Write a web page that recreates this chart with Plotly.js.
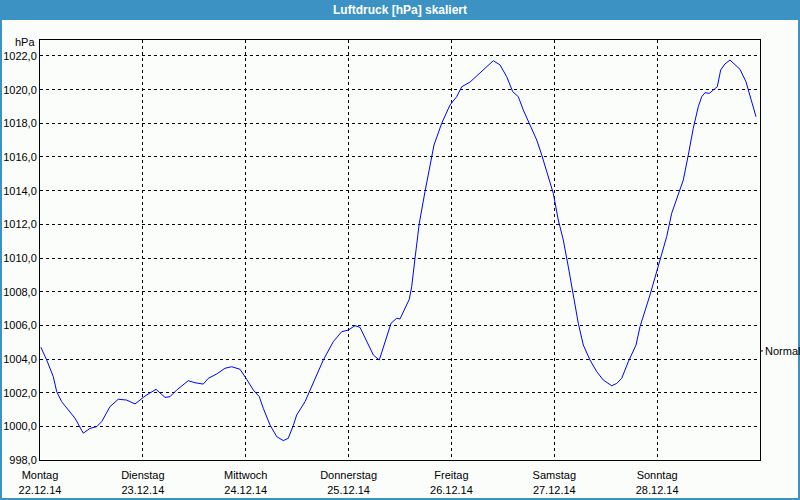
<!DOCTYPE html>
<html>
<head>
<meta charset="utf-8">
<script src="https://cdn.plot.ly/plotly-3.0.1.min.js"></script>
<style>
  html, body { margin: 0; padding: 0; background: #fbfdfb; }
  #chart { width: 800px; height: 500px; }
</style>
</head>
<body>
<div id="chart"></div>
<script>
// Hours since Monday 22.12.14 00:00
const hours = [0.2, 1.56, 3.1, 3.9, 5.06, 6.6, 8.17, 10.1, 11.67, 13.23, 14.4, 16.33, 18.27, 20.23, 22.17, 23.33,
  24.5, 27.07, 29.17, 30.33, 31.9, 34.6, 36.17, 38.1, 39.27, 41.23, 43.17, 44.73, 46.67,
  48.23, 49.77, 51.17, 52.1, 53.67, 55.23, 56.77, 57.93, 59.1, 59.89, 61.83, 63.4, 66.1, 68.43, 70.4,
  71.93, 73.5, 74.67, 76.23, 77.77, 79.17, 80.5, 81.9, 83.23, 84, 86.17, 86.73, 87.5, 88.5, 89.83, 91, 91.93, 93.73, 95.67,
  97.23, 98.4, 100.33, 101.9, 103.83, 105.77, 107.33, 108.9, 110.3, 111.6, 112.77, 114.33, 115.9, 117.07, 118.37,
  119.77, 120.93, 122.1, 123.27, 124.43, 125.6, 126.77, 128.33, 129.9, 131.43, 133.4, 134.57, 135.73, 137.27, 139.07, 140, 142.33,
  144.27, 146.23, 147.4, 148.93, 150.1, 151.27, 152.43, 153.6, 154.4, 155.17, 156.17, 157.1, 158.03, 158.83, 159.83, 161,
  162.17, 163.33, 164.73, 165.67, 167.07];
const pressure = [1004.70, 1003.94, 1002.95, 1002.06, 1001.46, 1000.97, 1000.48, 999.59, 999.88, 999.98, 1000.28, 1001.17, 1001.61, 1001.56, 1001.33, 1001.56,
  1001.80, 1002.20, 1001.72, 1001.76, 1002.16, 1002.71, 1002.59, 1002.51, 1002.85, 1003.11, 1003.45, 1003.54, 1003.39,
  1002.79, 1002.16, 1001.76, 1001.07, 1000.08, 999.39, 999.15, 999.29, 1000.05, 1000.67, 1001.46, 1002.35, 1003.94, 1005.03, 1005.62,
  1005.72, 1005.98, 1005.88, 1005.03, 1004.24, 1003.94, 1005.03, 1006.12, 1006.42, 1006.38, 1007.55, 1008.30, 1009.98, 1012.06, 1013.94, 1015.42, 1016.71, 1018.00, 1019.09,
  1019.58, 1020.17, 1020.45, 1020.81, 1021.27, 1021.72, 1021.47, 1020.77, 1019.88, 1019.58, 1018.79, 1017.90, 1017.01, 1016.12, 1015.03,
  1013.84, 1012.26, 1011.07, 1009.48, 1007.90, 1006.12, 1004.83, 1003.94, 1003.25, 1002.75, 1002.41, 1002.55, 1002.85, 1003.84, 1004.83, 1005.92, 1007.80,
  1009.48, 1011.27, 1012.66, 1013.84, 1014.63, 1016.12, 1017.71, 1018.99, 1019.58, 1019.82, 1019.78, 1019.98, 1020.17, 1021.17, 1021.53, 1021.76,
  1021.47, 1021.21, 1020.47, 1019.58, 1018.39];

const dayTicks = [0, 24, 48, 72, 96, 120, 144];
const dayNames = ['Montag', 'Dienstag', 'Mittwoch', 'Donnerstag', 'Freitag', 'Samstag', 'Sonntag'];
const dayDates = ['22.12.14', '23.12.14', '24.12.14', '25.12.14', '26.12.14', '27.12.14', '28.12.14'];
const normalValue = 1004.48;
const chartTitle = 'Luftdruck [hPa] skaliert';
const unitLabel = 'hPa';
const normalLabel = 'Normal';

const W = 800, H = 500, L = 40, R = 40, T = 40, B = 40;
const pw = W - L - R, ph = H - T - B;
const px = v => (v - L) / pw;          // pixel x -> paper x
const py = v => (H - B - v) / ph;      // pixel y -> paper y

const font = { family: 'Liberation Sans, Arial, sans-serif', size: 11, color: '#000000' };
const frameBlue = 'rgb(61,146,196)';

const trace = {
  x: hours, y: pressure, type: 'scatter', mode: 'lines',
  line: { color: '#0000ff', width: 1 },
  hoverinfo: 'skip'
};

const layout = {
  width: W, height: H,
  margin: { l: L, r: R, t: T, b: B, pad: 0 },
  paper_bgcolor: '#fbfdfb',
  plot_bgcolor: '#fbfdfb',
  separators: ',.',
  showlegend: false,
  font: font,
  title: {
    text: '<b>' + chartTitle + '</b>',
    font: { family: 'Liberation Sans, Arial, sans-serif', size: 12, color: '#ffffff' },
    x: 0.5, xanchor: 'center', xref: 'paper',
    y: 1 - 10 / H, yanchor: 'middle', yref: 'container'
  },
  xaxis: {
    range: [0, 168],
    tickmode: 'array',
    tickvals: dayTicks,
    ticktext: dayNames.map((d, i) => d + '<br>' + dayDates[i]),
    ticks: '',
    ticklabelstandoff: 5,
    showgrid: true, gridcolor: '#000000', gridwidth: 1, griddash: '3px,3px',
    zeroline: false,
    showline: true, linecolor: '#000000', linewidth: 1, mirror: true,
    tickfont: font,
    fixedrange: true
  },
  yaxis: {
    range: [998, 1022.95],
    tick0: 998, dtick: 2,
    tickformat: '.1f',
    ticks: '',
    showgrid: true, gridcolor: '#000000', gridwidth: 1, griddash: '3px,3px',
    zeroline: false,
    showline: true, linecolor: '#000000', linewidth: 1, mirror: true,
    tickfont: font,
    fixedrange: true
  },
  shapes: [
    // title bar
    { type: 'rect', xref: 'paper', yref: 'paper', x0: px(0), x1: px(800), y0: py(20), y1: py(0),
      fillcolor: frameBlue, line: { width: 0 }, layer: 'below' },
    // left, right, bottom frame
    { type: 'rect', xref: 'paper', yref: 'paper', x0: px(0), x1: px(2), y0: py(500), y1: py(20),
      fillcolor: frameBlue, line: { width: 0 } },
    { type: 'rect', xref: 'paper', yref: 'paper', x0: px(798), x1: px(800), y0: py(500), y1: py(20),
      fillcolor: frameBlue, line: { width: 0 } },
    { type: 'rect', xref: 'paper', yref: 'paper', x0: px(0), x1: px(800), y0: py(500), y1: py(498),
      fillcolor: frameBlue, line: { width: 0 } },
    // normal marker tick on right axis
    { type: 'line', xref: 'paper', yref: 'y', x0: 1, x1: px(763), y0: normalValue, y1: normalValue,
      line: { color: '#000000', width: 1 } }
  ],
  annotations: [
    { text: unitLabel, xref: 'paper', yref: 'paper', x: px(37), y: py(42),
      xanchor: 'right', yanchor: 'middle', showarrow: false, font: font },
    { text: normalLabel, xref: 'paper', yref: 'y', x: px(763), y: normalValue,
      xanchor: 'left', yanchor: 'middle', showarrow: false, font: font }
  ]
};

Plotly.newPlot('chart', [trace], layout, { displayModeBar: false, staticPlot: true });
</script>
</body>
</html>
